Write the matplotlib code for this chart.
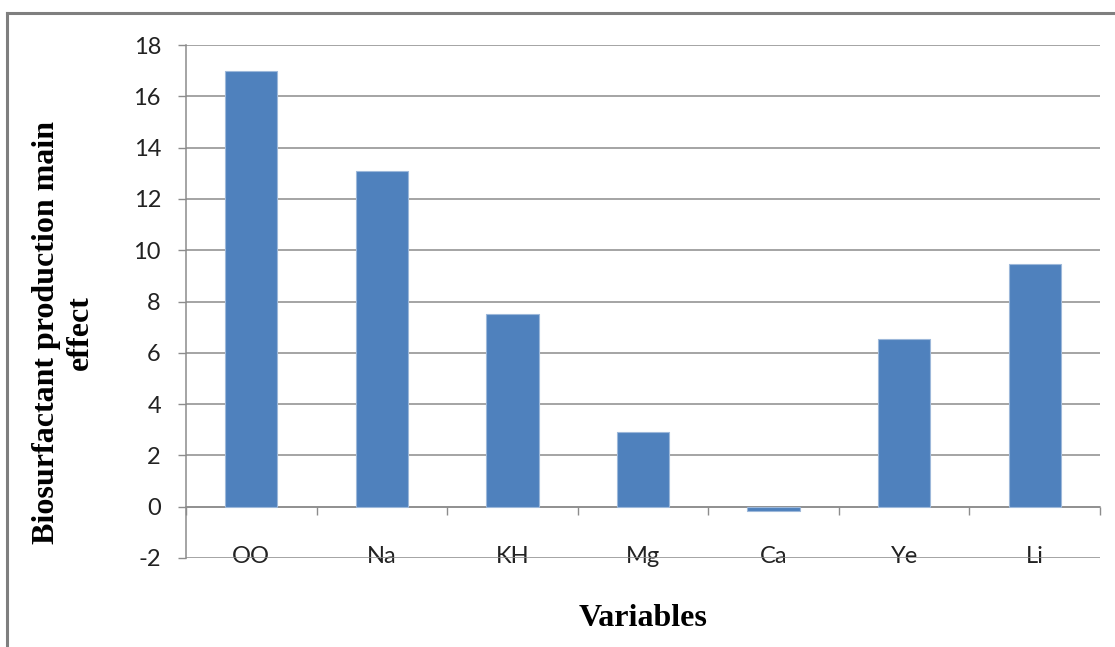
import numpy as np
import matplotlib.pyplot as plt
from matplotlib.lines import Line2D

# dados
variaveis = ['OO', 'Na', 'KH', 'Mg', 'Ca', 'Ye', 'Li']
efeitos = [16.97, 13.1, 7.5, 2.92, -0.17, 6.55, 9.48]
y_ticks = [-2, 0, 2, 4, 6, 8, 10, 12, 14, 16, 18]

cor_grade = '#8c8c8c'

fig = plt.figure(figsize=(11.15, 6.47), dpi=100)
ax = fig.add_axes([0.1668, 0.1376, 0.9865 - 0.1668, 0.9304 - 0.1376])

x = np.arange(len(variaveis))
ax.bar(x, efeitos, width=0.4, color='#4F81BD', edgecolor='#9db8da', linewidth=0.8, zorder=3)

ax.set_xlim(-0.5, len(variaveis) - 0.5)
ax.set_ylim(-2, 18)
ax.set_yticks(y_ticks)
ax.set_yticklabels([str(v) for v in y_ticks], fontfamily='Lato', fontsize=17, color='#222222')
ax.yaxis.grid(True, color=cor_grade, linewidth=1.1, zorder=0)
ax.tick_params(axis='y', length=6, width=1, color=cor_grade, pad=12)

# eixo x na linha do zero, com marcas entre categorias
for lado in ['top', 'right']:
    ax.spines[lado].set_visible(False)
ax.spines['bottom'].set_position(('data', 0))
ax.spines['bottom'].set_color(cor_grade)
ax.spines['bottom'].set_linewidth(1.1)
ax.spines['left'].set_color(cor_grade)
ax.spines['left'].set_linewidth(1.1)

ax.set_xticks(np.arange(len(variaveis) + 1) - 0.5)
ax.set_xticklabels([])
ax.tick_params(axis='x', which='major', length=6, width=1, color=cor_grade)
ax.set_xticks(x, minor=True)
ax.set_xticklabels(variaveis, minor=True, fontfamily='Lato', fontsize=17, color='#222222')
ax.tick_params(axis='x', which='minor', length=0, pad=28)

ax.set_xlabel('Variables', fontfamily='Liberation Serif', fontweight='bold', fontsize=23)
ax.xaxis.set_label_coords(0.5, -0.09)
ax.set_ylabel('Biosurfactant production main\neffect', fontfamily='Liberation Serif',
              fontweight='bold', fontsize=23, linespacing=1.2)
ax.yaxis.set_label_coords(-0.100, 0.44)

# moldura da area do grafico
fig.add_artist(Line2D([7 / 1115, 7 / 1115], [0, 1 - 13 / 647], color='#7f7f7f', linewidth=2.2))
fig.add_artist(Line2D([7 / 1115, 1], [1 - 13 / 647, 1 - 13 / 647], color='#7f7f7f', linewidth=2.2))

plt.savefig('out.png', dpi=100)
print("Grafico salvo como 'out.png'")
